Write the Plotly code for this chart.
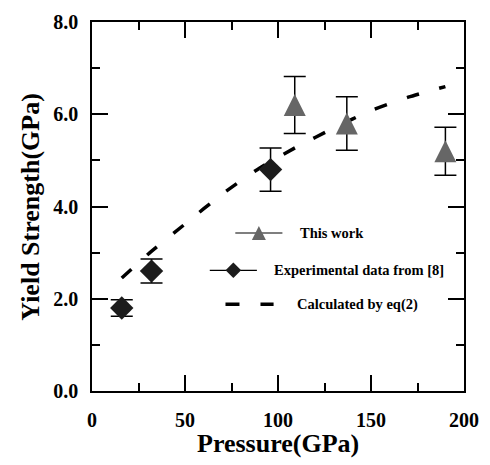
import plotly.graph_objects as go

# ---- data ----
exp_p = [16, 32, 96]
exp_y = [1.8, 2.6, 4.8]
exp_err = [0.18, 0.26, 0.47]

this_p = [109, 137, 190]
this_y = [6.2, 5.8, 5.2]
this_err = [0.62, 0.58, 0.52]

calc_p = [16, 30, 50, 70, 90, 110, 130, 150, 170, 190]
calc_y = [2.45, 2.96, 3.62, 4.27, 4.83, 5.29, 5.70, 6.08, 6.37, 6.60]

x_ticks = [0, 50, 100, 150, 200]
y_ticks = [0, 2, 4, 6, 8]
y_tick_labels = ["0.0", "2.0", "4.0", "6.0", "8.0"]

legend_labels = ["This work", "Experimental data from [8]", "Calculated by eq(2)"]

FONT = "Liberation Serif"
W, H = 490, 465
L, R, T, B = 92, 19, 11, 74
PW, PH = W - L - R, H - T - B


def px(xp):
    return (xp - L) / PW


def py(yp):
    return (H - B - yp) / PH


TRI = dict(symbol="arrow-down", angle=180)

fig = go.Figure()

fig.add_trace(go.Scatter(
    x=calc_p, y=calc_y, mode="lines",
    line=dict(color="black", width=3.5, dash="13px,21px", shape="spline", smoothing=0.6),
    showlegend=False, hoverinfo="skip"))

fig.add_trace(go.Scatter(
    x=exp_p, y=exp_y, mode="markers",
    marker=dict(symbol="diamond", size=18, color="#1c1c1c"),
    error_y=dict(type="data", array=exp_err, color="black", thickness=1.5, width=11),
    showlegend=False))

fig.add_trace(go.Scatter(
    x=this_p, y=this_y, mode="markers",
    marker=dict(size=22, standoff=11, color="#666666", **TRI),
    error_y=dict(type="data", array=this_err, color="black", thickness=1.5, width=11),
    showlegend=False))

# ---- legend (manual) on overlay axes in paper-like units ----
leg_rows = [py(228.3), py(266.7), py(301.7)]
fig.add_trace(go.Scatter(
    x=[px(262)], y=[leg_rows[0]], xaxis="x2", yaxis="y2", mode="markers",
    marker=dict(size=14, standoff=7, color="#666666", **TRI),
    showlegend=False, hoverinfo="skip"))
fig.add_trace(go.Scatter(
    x=[px(236)], y=[leg_rows[1]], xaxis="x2", yaxis="y2", mode="markers",
    marker=dict(symbol="diamond", size=12, color="#1c1c1c"),
    showlegend=False, hoverinfo="skip"))

shapes = [
    dict(type="line", xref="paper", yref="paper", x0=px(238), x1=px(286),
         y0=leg_rows[0], y1=leg_rows[0], line=dict(color="black", width=1.2), layer="below"),
    dict(type="line", xref="paper", yref="paper", x0=px(212), x1=px(260),
         y0=leg_rows[1], y1=leg_rows[1], line=dict(color="black", width=1.2), layer="below"),
    dict(type="line", xref="paper", yref="paper", x0=px(228), x1=px(277),
         y0=leg_rows[2], y1=leg_rows[2], line=dict(color="black", width=3.5, dash="14px,21px")),
]

text_x = [302, 275, 299]
annotations = []
for lbl, tx, ty in zip(legend_labels, text_x, leg_rows):
    annotations.append(dict(text="<b>" + lbl + "</b>", x=px(tx), y=ty, xref="paper", yref="paper",
                            xanchor="left", yanchor="middle", showarrow=False,
                            font=dict(family=FONT, size=14.5, color="black")))

annotations.append(dict(text="<b>Pressure(GPa)</b>", x=px(281), y=py(445.5),
                        xref="paper", yref="paper", xanchor="center", yanchor="middle",
                        showarrow=False, font=dict(family=FONT, size=26, color="black")))
annotations.append(dict(text="<b>Yield Strength(GPa)</b>", x=px(29), y=0.5,
                        xref="paper", yref="paper", xanchor="center", yanchor="middle",
                        textangle=-90, showarrow=False,
                        font=dict(family=FONT, size=26, color="black")))

axis_common = dict(showgrid=False, zeroline=False, showline=True, linecolor="black",
                   linewidth=1.5, mirror="allticks", ticks="inside", ticklen=16,
                   tickwidth=1.5, tickcolor="black",
                   tickfont=dict(family=FONT, size=20, color="black"))

fig.update_layout(
    width=W, height=H,
    margin=dict(l=L, r=R, t=T, b=B, pad=0),
    paper_bgcolor="white", plot_bgcolor="white",
    xaxis=dict(range=[0, 200], tickvals=x_ticks,
               ticktext=["<b>%d</b>" % v for v in x_ticks],
               minor=dict(ticks="inside", ticklen=8, dtick=25, tickwidth=1.5, tickcolor="black"),
               ticklabelstandoff=10, **axis_common),
    yaxis=dict(range=[0, 8], tickvals=y_ticks,
               ticktext=["<b>%s</b>" % t for t in y_tick_labels],
               minor=dict(ticks="inside", ticklen=8, dtick=1, tickwidth=1.5, tickcolor="black"),
               ticklabelstandoff=8, **axis_common),
    xaxis2=dict(overlaying="x", range=[0, 1], visible=False, fixedrange=True),
    yaxis2=dict(overlaying="y", range=[0, 1], visible=False, fixedrange=True),
    shapes=shapes,
    annotations=annotations,
    showlegend=False,
)

fig.write_html("out.html")
